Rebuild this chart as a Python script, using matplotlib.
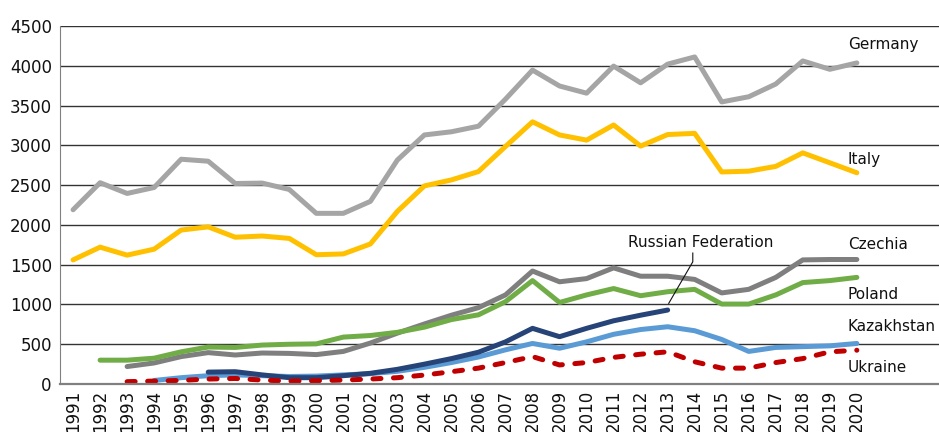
import numpy as np
import matplotlib
matplotlib.use("Agg")
import matplotlib.pyplot as plt

nan = np.nan
years = list(range(1991, 2021))

germany = [2190, 2530, 2395, 2470, 2825, 2800, 2520, 2525, 2445, 2145,
           2145, 2295, 2815, 3130, 3170, 3240, 3580, 3945, 3745, 3655,
           3995, 3785, 4020, 4110, 3545, 3610, 3770, 4060, 3955, 4035]
italy = [1560, 1720, 1620, 1695, 1935, 1975, 1845, 1860, 1830, 1625,
         1635, 1760, 2170, 2490, 2565, 2670, 2985, 3295, 3130, 3065,
         3255, 2990, 3135, 3150, 2665, 2675, 2735, 2905, 2780, 2655]
czechia = [nan, nan, 220, 265, 345, 395, 365, 390, 385, 370,
           410, 515, 640, 755, 865, 960, 1120, 1420, 1285, 1325,
           1460, 1355, 1355, 1315, 1145, 1190, 1340, 1560, 1565, 1565]
poland = [nan, 300, 300, 325, 405, 465, 460, 490, 500, 505,
          590, 610, 650, 715, 810, 870, 1035, 1300, 1025, 1120,
          1200, 1110, 1160, 1190, 1005, 1005, 1120, 1275, 1300, 1340]
russia = [nan, nan, nan, nan, nan, 150, 155, 115, 80, 80,
          105, 135, 185, 250, 320, 400, 530, 700, 595, 700,
          795, 865, 930, nan, nan, nan, nan, nan, nan, nan]
kazakhstan = [nan, nan, nan, 45, 80, 105, 115, 105, 95, 100,
              115, 130, 160, 210, 270, 340, 430, 510, 450, 530,
              625, 685, 720, 670, 560, 410, 460, 470, 480, 510]
ukraine = [nan, nan, 30, 37, 46, 63, 70, 50, 37, 42,
           50, 63, 80, 113, 155, 200, 270, 345, 240, 270,
           335, 375, 405, 280, 200, 200, 270, 320, 405, 425]

fig = plt.figure(figsize=(9.39, 4.32), dpi=100)
ax = fig.add_axes([0.064, 0.111, 0.936, 0.829])

ax.set_xlim(1990.52, 2023.04)
ax.set_ylim(0, 4500)
ax.set_yticks(range(0, 4501, 500))
ax.set_xticks(years)
ax.set_xticklabels([str(y) for y in years], rotation=90)
ax.grid(axis="y", color="#333333", linewidth=1.0)
ax.set_axisbelow(True)
# top gridline is lighter in the original
ax.axhline(4500, color="#808080", linewidth=1.4, zorder=0.5)
for side in ["top", "right"]:
    ax.spines[side].set_visible(False)
ax.spines["left"].set_color("#808080")
ax.spines["bottom"].set_color("#808080")
ax.spines["bottom"].set_linewidth(1.6)
ax.tick_params(axis="both", length=0, labelsize=12, colors="#111111")
ax.tick_params(axis="y", pad=6)
ax.tick_params(axis="x", pad=4)

lw = 3.6
ax.plot(years, germany, color="#A5A5A5", linewidth=lw, solid_capstyle="round")
ax.plot(years, italy, color="#FFC000", linewidth=lw, solid_capstyle="round")
ax.plot(years, czechia, color="#7F7F7F", linewidth=lw, solid_capstyle="round")
ax.plot(years, poland, color="#70AD47", linewidth=lw, solid_capstyle="round")
ax.plot(years, kazakhstan, color="#5B9BD5", linewidth=lw, solid_capstyle="round")
ax.plot(years, russia, color="#264478", linewidth=lw, solid_capstyle="round")
ax.plot(years, ukraine, color="#C00000", linewidth=lw, dashes=(1.6, 2.5),
        dash_capstyle="round")

lab = dict(fontsize=11, color="#111111", va="center", ha="left")
ax.text(2019.67, 4270, "Germany", **lab)
ax.text(2019.67, 2825, "Italy", **lab)
ax.text(2019.67, 1755, "Czechia", **lab)
ax.text(2019.67, 1130, "Poland", **lab)
ax.text(2019.67, 720, "Kazakhstan", **lab)
ax.text(2019.67, 210, "Ukraine", **lab)
ax.text(2014.22, 1775, "Russian Federation", fontsize=11, color="#111111",
        va="center", ha="center")
ax.plot([2013.93, 2013.93, 2013.04], [1646, 1536, 1014], color="#111111",
        linewidth=0.8)

fig.savefig("out.png", dpi=100)
